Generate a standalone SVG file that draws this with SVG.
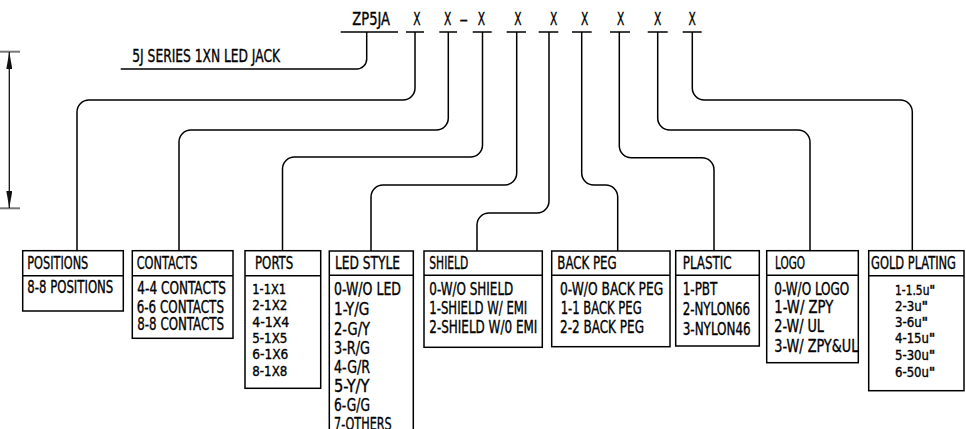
<svg xmlns="http://www.w3.org/2000/svg" width="966" height="429" viewBox="0 0 966 429">
<style>
text{font-family:"DejaVu Sans Condensed","DejaVu Sans","Liberation Sans",sans-serif;font-size:17.5px;fill:#000;stroke:#000;stroke-width:0.35}
.s{font-size:13.5px}
.box{fill:#fff;stroke:#000;stroke-width:1.5}
.div{stroke:#000;stroke-width:1.5}
.ul{stroke:#000;stroke-width:1.5}
.c{fill:none;stroke:#000;stroke-width:1.5}
.ext{stroke:#777;stroke-width:2}
</style>
<defs>
<marker id="ah" viewBox="0 0 17 6" refX="17" refY="3" markerWidth="17" markerHeight="6" markerUnits="userSpaceOnUse" orient="auto-start-reverse">
<path d="M0,0 L17,3 L0,6 z" fill="#111"/>
</marker>
</defs>

<g id="dimension">
<line class="ext" x1="0" y1="51.7" x2="20" y2="51.7"/>
<line class="ext" x1="0" y1="208.3" x2="20" y2="208.3"/>
<line x1="9.3" y1="52" x2="9.3" y2="208" stroke="#111" stroke-width="1.3" marker-start="url(#ah)" marker-end="url(#ah)"/>
</g>

<g id="header">
<text x="352.3" y="25" textLength="37.7" lengthAdjust="spacingAndGlyphs">ZP5JA</text>
<text x="413.3" y="25" textLength="7.3" lengthAdjust="spacingAndGlyphs">X</text>
<text x="444" y="25" textLength="7.3" lengthAdjust="spacingAndGlyphs">X</text>
<text x="459.3" y="25" textLength="9" lengthAdjust="spacingAndGlyphs">-</text>
<text x="477.7" y="25" textLength="7.3" lengthAdjust="spacingAndGlyphs">X</text>
<text x="514.3" y="25" textLength="7.3" lengthAdjust="spacingAndGlyphs">X</text>
<text x="550" y="25" textLength="7.3" lengthAdjust="spacingAndGlyphs">X</text>
<text x="581" y="25" textLength="7.3" lengthAdjust="spacingAndGlyphs">X</text>
<text x="617" y="25" textLength="7.3" lengthAdjust="spacingAndGlyphs">X</text>
<text x="654" y="25" textLength="7.3" lengthAdjust="spacingAndGlyphs">X</text>
<text x="688.5" y="25" textLength="7.3" lengthAdjust="spacingAndGlyphs">X</text>
<line class="ul" x1="340.7" y1="32" x2="398" y2="32"/>
<line class="ul" x1="406" y1="32" x2="424" y2="32"/>
<line class="ul" x1="439.3" y1="32" x2="457" y2="32"/>
<line class="ul" x1="472.7" y1="32" x2="491.7" y2="32"/>
<line class="ul" x1="506.7" y1="32" x2="526" y2="32"/>
<line class="ul" x1="538.7" y1="32" x2="558.3" y2="32"/>
<line class="ul" x1="572" y1="32" x2="591.7" y2="32"/>
<line class="ul" x1="610" y1="32" x2="630" y2="32"/>
<line class="ul" x1="647.7" y1="32" x2="667.7" y2="32"/>
<line class="ul" x1="682.7" y1="32" x2="701.7" y2="32"/>
<text x="132.3" y="61.7" textLength="147.7" lengthAdjust="spacingAndGlyphs">5J SERIES 1XN LED JACK</text>
</g>

<g id="connectors">
<path class="c" d="M366.7,32 V59 A10,10 0 0 1 356.7,69 H120.7"/>
<path class="c" d="M415,32 V88 A12,12 0 0 1 403,100 H89 A12,12 0 0 0 77,112 V250.7"/>
<path class="c" d="M448.3,32 V118 A12,12 0 0 1 436.3,130 H191 A12,12 0 0 0 179,142 V250.7"/>
<path class="c" d="M482.5,32 V145 A12,12 0 0 1 470.5,157 H294.5 A12,12 0 0 0 282.5,169 V250.7"/>
<path class="c" d="M516.7,32 V173 A12,12 0 0 1 504.7,185 H383 A12,12 0 0 0 371,197 V251"/>
<path class="c" d="M549,32 V201 A12,12 0 0 1 537,213 H489 A12,12 0 0 0 477,225 V251"/>
<path class="c" d="M581.7,32 V173 A12,12 0 0 0 593.7,185 H605.7 A12,12 0 0 1 617.7,197 V251"/>
<path class="c" d="M619.3,32 V145.7 A12,12 0 0 0 631.3,157.7 H702 A12,12 0 0 1 714,169.7 V250.7"/>
<path class="c" d="M657.7,32 V118 A12,12 0 0 0 669.7,130 H798 A12,12 0 0 1 810,142 V250.7"/>
<path class="c" d="M692.3,32 V88 A12,12 0 0 0 704.3,100 H900.3 A12,12 0 0 1 912.3,112 V250.7"/>
</g>

<g id="positions">
<rect class="box" x="22.7" y="250.7" width="100.6" height="60.3"/>
<line class="div" x1="22.7" y1="275.7" x2="123.3" y2="275.7"/>
<text x="27.3" y="269" textLength="61" lengthAdjust="spacingAndGlyphs">POSITIONS</text>
<text x="27.3" y="293.3" textLength="86" lengthAdjust="spacingAndGlyphs">8-8 POSITIONS</text>
</g>

<g id="contacts">
<rect class="box" x="132.3" y="250.7" width="100.7" height="87.6"/>
<line class="div" x1="132.3" y1="275.7" x2="233" y2="275.7"/>
<text x="136.7" y="269" textLength="60.7" lengthAdjust="spacingAndGlyphs">CONTACTS</text>
<text x="137.3" y="294.3" textLength="88.7" lengthAdjust="spacingAndGlyphs">4-4 CONTACTS</text>
<text x="136.7" y="312.7" textLength="87.3" lengthAdjust="spacingAndGlyphs">6-6 CONTACTS</text>
<text x="137.3" y="330" textLength="86.7" lengthAdjust="spacingAndGlyphs">8-8 CONTACTS</text>
</g>

<g id="ports">
<rect class="box" x="245" y="250.7" width="75.7" height="137.6"/>
<line class="div" x1="245" y1="275.7" x2="320.7" y2="275.7"/>
<text x="255" y="269" textLength="38.3" lengthAdjust="spacingAndGlyphs">PORTS</text>
<text class="s" x="252.3" y="294" textLength="33.7" lengthAdjust="spacingAndGlyphs">1-1X1</text>
<text class="s" x="252.3" y="310" textLength="35" lengthAdjust="spacingAndGlyphs">2-1X2</text>
<text class="s" x="252.3" y="326.7" textLength="37" lengthAdjust="spacingAndGlyphs">4-1X4</text>
<text class="s" x="252.3" y="342.7" textLength="35" lengthAdjust="spacingAndGlyphs">5-1X5</text>
<text class="s" x="252.3" y="359" textLength="36" lengthAdjust="spacingAndGlyphs">6-1X6</text>
<text class="s" x="252.3" y="376" textLength="35" lengthAdjust="spacingAndGlyphs">8-1X8</text>
</g>

<g id="led-style">
<rect class="box" x="329.3" y="251" width="84" height="190"/>
<line class="div" x1="329.3" y1="275.3" x2="413.3" y2="275.3"/>
<text x="335" y="269.3" textLength="65" lengthAdjust="spacingAndGlyphs">LED STYLE</text>
<text x="334" y="295" textLength="67" lengthAdjust="spacingAndGlyphs">0-W/O LED</text>
<text x="334" y="315" textLength="35.3" lengthAdjust="spacingAndGlyphs">1-Y/G</text>
<text x="334" y="335" textLength="36" lengthAdjust="spacingAndGlyphs">2-G/Y</text>
<text x="334" y="354" textLength="36" lengthAdjust="spacingAndGlyphs">3-R/G</text>
<text x="334" y="372.7" textLength="36" lengthAdjust="spacingAndGlyphs">4-G/R</text>
<text x="334" y="391.7" textLength="35.5" lengthAdjust="spacingAndGlyphs">5-Y/Y</text>
<text x="334" y="410.7" textLength="36" lengthAdjust="spacingAndGlyphs">6-G/G</text>
<text x="334" y="430" textLength="57.7" lengthAdjust="spacingAndGlyphs">7-OTHERS</text>
</g>

<g id="shield">
<rect class="box" x="424" y="251" width="118.3" height="96.3"/>
<line class="div" x1="424" y1="275.3" x2="542.3" y2="275.3"/>
<text x="429.3" y="269.3" textLength="39" lengthAdjust="spacingAndGlyphs">SHIELD</text>
<text x="429.3" y="295" textLength="84" lengthAdjust="spacingAndGlyphs">0-W/O SHIELD</text>
<text x="429.3" y="314" textLength="98" lengthAdjust="spacingAndGlyphs">1-SHIELD W/ EMI</text>
<text x="429.3" y="333.3" textLength="108" lengthAdjust="spacingAndGlyphs">2-SHIELD W/0 EMI</text>
</g>

<g id="back-peg">
<rect class="box" x="551.7" y="251" width="118.3" height="95.7"/>
<line class="div" x1="551.7" y1="275.3" x2="670" y2="275.3"/>
<text x="557.3" y="269.3" textLength="59.3" lengthAdjust="spacingAndGlyphs">BACK PEG</text>
<text x="560" y="295" textLength="103.3" lengthAdjust="spacingAndGlyphs">0-W/O BACK PEG</text>
<text x="560.7" y="314" textLength="81" lengthAdjust="spacingAndGlyphs">1-1 BACK PEG</text>
<text x="560" y="333.3" textLength="84" lengthAdjust="spacingAndGlyphs">2-2 BACK PEG</text>
</g>

<g id="plastic">
<rect class="box" x="675.7" y="250.7" width="83.6" height="95.3"/>
<line class="div" x1="675.7" y1="275.3" x2="759.3" y2="275.3"/>
<text x="682.7" y="269.3" textLength="49" lengthAdjust="spacingAndGlyphs">PLASTIC</text>
<text x="682.7" y="295" textLength="34.7" lengthAdjust="spacingAndGlyphs">1-PBT</text>
<text x="682.7" y="315" textLength="67.3" lengthAdjust="spacingAndGlyphs">2-NYLON66</text>
<text x="682.7" y="335" textLength="68" lengthAdjust="spacingAndGlyphs">3-NYLON46</text>
</g>

<g id="logo">
<rect class="box" x="766.7" y="250.7" width="91.6" height="112"/>
<line class="div" x1="766.7" y1="275.3" x2="858.3" y2="275.3"/>
<text x="775" y="269.3" textLength="30" lengthAdjust="spacingAndGlyphs">LOGO</text>
<text x="774.3" y="295" textLength="75" lengthAdjust="spacingAndGlyphs">0-W/O LOGO</text>
<text x="774.3" y="313.3" textLength="59" lengthAdjust="spacingAndGlyphs">1-W/ ZPY</text>
<text x="774.3" y="331.7" textLength="49.7" lengthAdjust="spacingAndGlyphs">2-W/ UL</text>
<text x="774.3" y="351.7" textLength="84" lengthAdjust="spacingAndGlyphs">3-W/ ZPY&amp;UL</text>
</g>

<g id="gold-plating">
<rect class="box" x="868.7" y="250.7" width="95.3" height="140"/>
<line class="div" x1="868.7" y1="275.7" x2="964" y2="275.7"/>
<text x="871" y="269.3" textLength="85" lengthAdjust="spacingAndGlyphs">GOLD PLATING</text>
<text class="s" x="895" y="295" textLength="40" lengthAdjust="spacingAndGlyphs">1-1.5u<tspan font-weight="bold">"</tspan></text>
<text class="s" x="895" y="310.7" textLength="33" lengthAdjust="spacingAndGlyphs">2-3u<tspan font-weight="bold">"</tspan></text>
<text class="s" x="895" y="327.3" textLength="33" lengthAdjust="spacingAndGlyphs">3-6u<tspan font-weight="bold">"</tspan></text>
<text class="s" x="895" y="343.3" textLength="40" lengthAdjust="spacingAndGlyphs">4-15u<tspan font-weight="bold">"</tspan></text>
<text class="s" x="895" y="360" textLength="40" lengthAdjust="spacingAndGlyphs">5-30u<tspan font-weight="bold">"</tspan></text>
<text class="s" x="895" y="376.7" textLength="40" lengthAdjust="spacingAndGlyphs">6-50u<tspan font-weight="bold">"</tspan></text>
</g>
</svg>
